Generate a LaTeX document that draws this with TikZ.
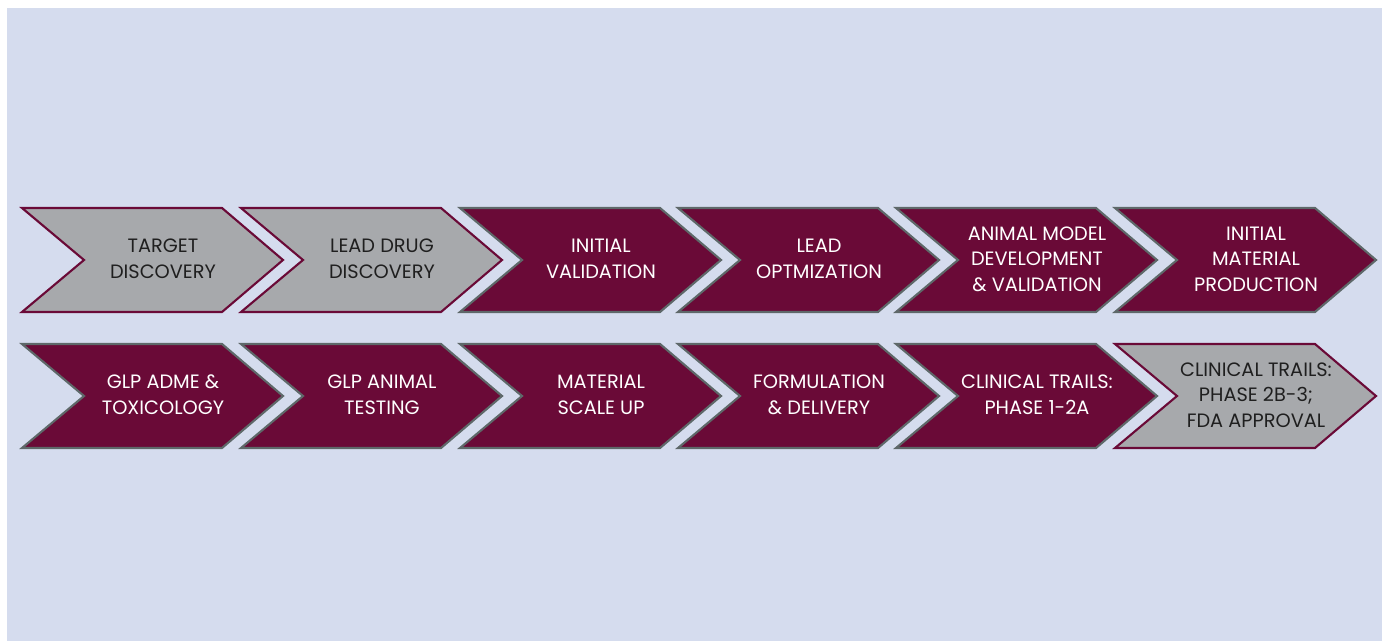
\documentclass[tikz,border=0pt]{standalone}
\usepackage{fontspec}
\setmainfont{Poppins}
\definecolor{wine}{HTML}{6A0A37}
\definecolor{stepgray}{HTML}{A7A9AC}
\definecolor{edgegray}{HTML}{5E6869}
\definecolor{panel}{HTML}{D5DCEE}
\tikzset{
	chev/.style={line width=1.2pt, line join=miter},
	dark step/.style={chev, fill=wine, draw=edgegray},
	light step/.style={chev, fill=stepgray, draw=wine},
	dark text/.style={text=white, align=center, font=\fontsize{11}{14.6}\selectfont},
	light text/.style={dark text, text=black!88},
}

\begin{document}
\begin{tikzpicture}[x=0.02cm,y=-0.02cm]
	\useasboundingbox (0,0) rectangle (1382,641);
	\fill[panel] (7,8) rectangle (1382,641);

	% two rows of process steps
	\foreach \n/\l/\y/\kind/\txt in {
		a1/22/260/light/{TARGET\\DISCOVERY},
		a2/241/260/light/{LEAD DRUG\\DISCOVERY},
		a3/460/260/dark/{INITIAL\\VALIDATION},
		a4/678/260/dark/{LEAD\\OPTMIZATION},
		a5/896/260/dark/{ANIMAL MODEL\\DEVELOPMENT\\\& VALIDATION},
		a6/1115/260/dark/{INITIAL\\MATERIAL\\PRODUCTION},
		b1/22/396/dark/{GLP ADME \&\\TOXICOLOGY},
		b2/241/396/dark/{GLP ANIMAL\\TESTING},
		b3/460/396/dark/{MATERIAL\\SCALE UP},
		b4/678/396/dark/{FORMULATION\\\& DELIVERY},
		b5/896/396/dark/{CLINICAL TRAILS:\\PHASE 1-2A},
		b6/1115/396/light/{CLINICAL TRAILS:\\PHASE 2B-3;\\FDA APPROVAL}}
	{
		\draw[\kind\space step] (\l,\y-52) -- ++(200,0) -- ++(61,52) -- ++(-61,52)
			-- ++(-200,0) -- ++(62,-52) -- cycle;
		\node[\kind\space text] (\n) at (\l+141,\y-1) {\txt};
	}
\end{tikzpicture}
\end{document}
